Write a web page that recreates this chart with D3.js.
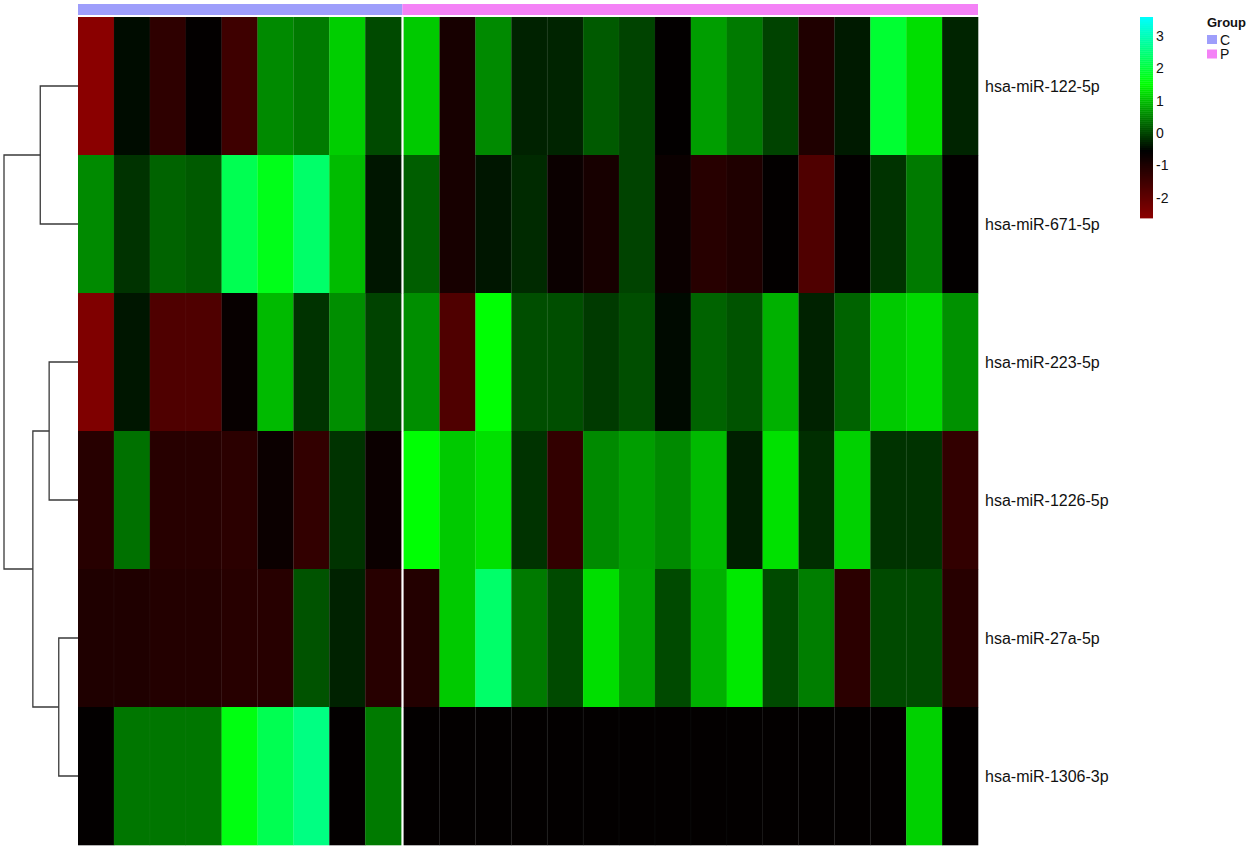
<!DOCTYPE html>
<html>
<head>
<meta charset="utf-8">
<script src="https://cdn.jsdelivr.net/npm/d3@7"></script>
<style>
  html, body { margin: 0; padding: 0; background: #fff; }
  svg { display: block; }
  text { font-family: "Liberation Sans", Arial, sans-serif; }
</style>
</head>
<body>
<svg id="chart" width="1250" height="851"></svg>
<script>
// ---------------- data ----------------
const rowLabels = ["hsa-miR-122-5p", "hsa-miR-671-5p", "hsa-miR-223-5p",
                   "hsa-miR-1226-5p", "hsa-miR-27a-5p", "hsa-miR-1306-3p"];
const colLabels = ["C1","C2","C3","C4","C5","C6","C7","C8","C9",
                   "P1","P2","P3","P4","P5","P6","P7","P8","P9","P10","P11","P12","P13","P14","P15","P16"];
const colGroups = ["C","C","C","C","C","C","C","C","C",
                   "P","P","P","P","P","P","P","P","P","P","P","P","P","P","P","P"];
const groupNames = ["C", "P"];
const groupColors = ["#9E9EFB", "#F482F6"];

const row122  = [-2.60,-0.45,-1.24,-0.60,-1.48, 0.57, 0.44, 1.12, 0.05,
                  1.09,-0.89, 0.57,-0.27,-0.26, 0.18,-0.01,-0.59, 0.73, 0.44,-0.01,-1.01,-0.34, 1.92, 1.26,-0.26];
const row671  = [ 0.57,-0.14, 0.25, 0.18, 2.18, 1.72, 2.37, 0.98,-0.37,
                  0.21,-0.89,-0.37,-0.21,-0.71,-0.89,-0.01,-0.71,-1.13,-1.01,-0.59,-1.72,-0.59,-0.14, 0.44,-0.59];
const row223  = [-2.44,-0.37,-1.72,-1.72,-0.65, 0.96,-0.14, 0.60,-0.01,
                  0.60,-1.72, 1.55, 0.08, 0.08,-0.08, 0.08,-0.47, 0.25, 0.12, 0.89,-0.27, 0.25, 1.09, 1.22, 0.63];
const row1226 = [-1.13, 0.37,-1.13,-1.13,-1.19,-0.71,-1.30,-0.14,-0.71,
                  1.55, 1.09, 1.28,-0.14,-1.30, 0.57, 0.73, 0.57, 0.96,-0.30, 1.28,-0.18, 1.15,-0.14,-0.14,-1.30];
const row27a  = [-1.01,-1.01,-1.07,-1.07,-1.13,-1.13, 0.12,-0.27,-1.13,
                 -1.07, 1.09, 2.37, 0.44, 0.05, 1.25, 0.76, 0.05, 0.89, 1.34, 0.05, 0.47,-1.19, 0.05, 0.05,-1.13];
const row1306 = [-0.59, 0.41, 0.41, 0.41, 1.66, 2.18, 2.57,-0.59, 0.44,
                 -0.59,-0.59,-0.59,-0.59,-0.59,-0.59,-0.59,-0.59,-0.59,-0.59,-0.59,-0.59,-0.59,-0.59, 1.15,-0.59];
const values = [row122, row671, row223, row1226, row27a, row1306];

// row dendrogram merges (heights relative to root = 1)
const dendroMerges = [
  { id: "m12",   left: 0,      right: 1,     height: 0.51 },
  { id: "m34",   left: 2,      right: 3,     height: 0.39 },
  { id: "m56",   left: 4,      right: 5,     height: 0.26 },
  { id: "m3456", left: "m34",  right: "m56", height: 0.61 },
  { id: "root",  left: "m12",  right: "m3456", height: 1.00 }
];

const legendTicks = [-2, -1, 0, 1, 2, 3];
const colorDomain = [-2.62, -0.55, 1.52, 3.58];
const colorRange = ["#8B0000", "#000000", "#00FF00", "#00FFFF"];

// ---------------- layout ----------------
const svg = d3.select("#chart");
const hmLeft = 78, hmRight = 978, hmTop = 17, hmBottom = 845;
const gap = 2.5;
const nC = colGroups.filter(g => g === "C").length;
const cellW = (hmRight - hmLeft - gap) / colLabels.length;

const color = d3.scaleLinear().domain(colorDomain).range(colorRange).clamp(true);

const xPos = i => hmLeft + i * cellW + (i >= nC ? gap : 0);
const y = d3.scaleBand().domain(d3.range(rowLabels.length)).range([hmTop, hmBottom]);

// annotation bar: one block per group run (no gap between groups)
const annY0 = 4, annY1 = 15;
const gScale = d3.scaleOrdinal().domain(groupNames).range(groupColors);
const annX = i => (i === 0 ? hmLeft : i === colGroups.length ? hmRight
                  : (i === nC ? hmLeft + nC * cellW + gap / 2 : xPos(i)));
const runs = [];
colGroups.forEach((g, i) => {
  if (runs.length && runs[runs.length - 1].g === g) runs[runs.length - 1].end = i + 1;
  else runs.push({ g, start: i, end: i + 1 });
});
svg.append("g").selectAll("rect")
  .data(runs)
  .join("rect")
  .attr("x", d => annX(d.start))
  .attr("y", annY0)
  .attr("width", d => annX(d.end) - annX(d.start))
  .attr("height", annY1 - annY0)
  .attr("fill", d => gScale(d.g));

// heatmap cells
const cells = [];
values.forEach((row, r) => row.forEach((v, c) => cells.push({ r, c, v })));
svg.append("g").selectAll("rect")
  .data(cells)
  .join("rect")
  .attr("x", d => xPos(d.c))
  .attr("y", d => y(d.r))
  .attr("width", cellW + 0.3)
  .attr("height", y.bandwidth() + 0.3)
  .attr("fill", d => color(d.v));

// faint cell separators
svg.append("g").selectAll("line")
  .data(d3.range(1, colLabels.length).filter(i => i !== nC))
  .join("line")
  .attr("x1", i => xPos(i)).attr("x2", i => xPos(i))
  .attr("y1", hmTop).attr("y2", hmBottom)
  .attr("stroke", "#ffffff").attr("stroke-opacity", 0.035).attr("stroke-width", 1);

// row labels
svg.append("g").selectAll("text")
  .data(rowLabels)
  .join("text")
  .attr("x", hmRight + 7)
  .attr("y", (d, i) => y(i) + y.bandwidth() / 2)
  .attr("dy", "0.35em")
  .attr("font-size", 16)
  .attr("fill", "#111")
  .text(d => d);

// dendrogram
const dx = d3.scaleLinear().domain([0, 1]).range([hmLeft, 4]);
const nodes = {};
rowLabels.forEach((d, i) => { nodes[i] = { y: y(i) + y.bandwidth() / 2, h: 0 }; });
const dg = svg.append("g").attr("fill", "none").attr("stroke", "#3a3a3a").attr("stroke-width", 1.3);
dendroMerges.forEach(m => {
  const a = nodes[m.left], b = nodes[m.right];
  const xm = dx(m.height);
  dg.append("path")
    .attr("d", `M${dx(a.h)},${a.y}H${xm}V${b.y}H${dx(b.h)}`);
  nodes[m.id] = { y: (a.y + b.y) / 2, h: m.height };
});

// colour legend
const lgX = 1140, lgW = 13, lgTop = 17, lgBottom = 218;
const lgScale = d3.scaleLinear().domain([colorDomain[0], colorDomain[3]]).range([lgBottom, lgTop]);
const nSteps = 100;
const stepVals = d3.range(nSteps).map(i => colorDomain[0] + (i + 0.5) * (colorDomain[3] - colorDomain[0]) / nSteps);
const stepH = (lgBottom - lgTop) / nSteps;
svg.append("g").selectAll("rect")
  .data(stepVals)
  .join("rect")
  .attr("x", lgX)
  .attr("y", d => lgScale(d) - stepH / 2)
  .attr("width", lgW)
  .attr("height", stepH + 0.4)
  .attr("fill", d => color(d));
svg.append("g").selectAll("text")
  .data(legendTicks)
  .join("text")
  .attr("x", lgX + lgW + 3)
  .attr("y", d => lgScale(d))
  .attr("dy", "0.35em")
  .attr("font-size", 14)
  .attr("fill", "#111")
  .text(d => d);

// group legend
const gl = svg.append("g");
gl.append("text")
  .attr("x", 1207).attr("y", 27)
  .attr("font-size", 13).attr("font-weight", "bold").attr("fill", "#111")
  .text("Group");
groupNames.forEach((g, i) => {
  gl.append("rect")
    .attr("x", 1207).attr("y", 35 + i * 14.5)
    .attr("width", 10).attr("height", 9)
    .attr("fill", gScale(g));
  gl.append("text")
    .attr("x", 1220).attr("y", 35 + i * 14.5 + 4.5)
    .attr("dy", "0.36em")
    .attr("font-size", 14).attr("fill", "#111")
    .text(g);
});
</script>
</body>
</html>
